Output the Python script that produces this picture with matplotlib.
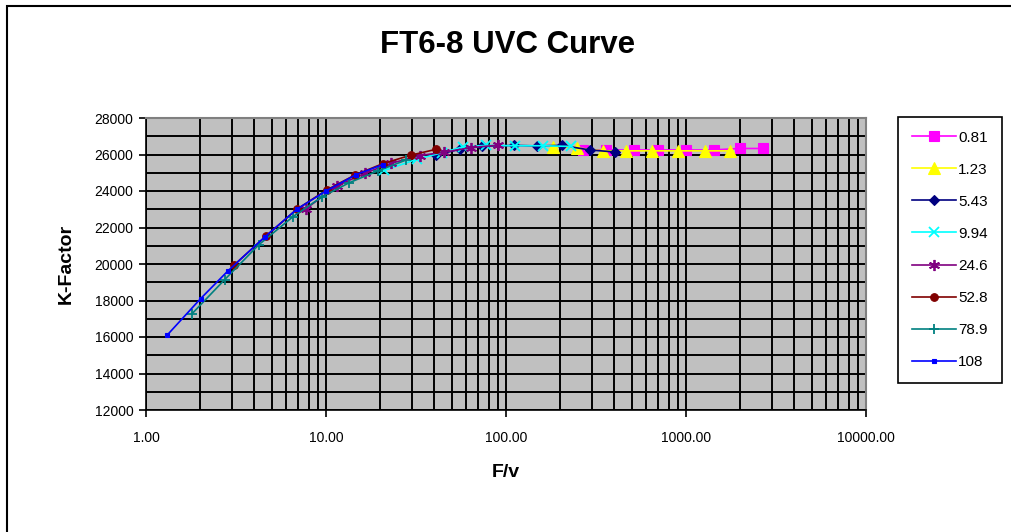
"""FT6-8 UVC curve: K-factor against F/v for several viscosities."""

import matplotlib

matplotlib.use("Agg", force=True)
import matplotlib.pyplot as plt
from matplotlib.patches import Rectangle
from matplotlib.ticker import FixedLocator, NullFormatter

plt.rcParams["font.family"] = ["Liberation Sans", "DejaVu Sans"]

# viscosity series (legend labels) and their points
labels = ["0.81", "1.23", "5.43", "9.94", "24.6", "52.8", "78.9", "108"]

fv_081 = [267, 360, 514, 699, 1002, 1422, 1983, 2685]
k_081 = [26250, 26250, 26250, 26250, 26250, 26250, 26330, 26330]

fv_123 = [182, 248, 348, 464, 648, 897, 1271, 1755]
k_123 = [26430, 26360, 26200, 26200, 26200, 26200, 26200, 26200]

fv_543 = [41, 55.7, 73.8, 110.5, 148, 205, 291, 401]
k_543 = [25980, 26290, 26440, 26500, 26470, 26500, 26250, 26140]

fv_994 = [21.1, 32.0, 44.2, 57.5, 77.6, 111.5, 160, 230]
k_994 = [25130, 25740, 26100, 26420, 26500, 26480, 26480, 26440]

fv_246 = [7.76, 11.5, 16.5, 22.9, 33.1, 45.5, 64.1, 90.0]
k_246 = [23040, 24280, 24980, 25510, 25940, 26130, 26380, 26510]

fv_528 = [3.07, 4.65, 6.91, 10.1, 14.5, 20.7, 29.5, 41.1]
k_528 = [19920, 21540, 23010, 24060, 24880, 25500, 25960, 26290]

fv_789 = [1.80, 2.74, 4.24, 6.57, 9.54, 13.5, 19.4, 27.9]
k_789 = [17270, 19150, 21060, 22600, 23690, 24460, 25100, 25700]

fv_108 = [1.31, 2.01, 2.85, 4.59, 6.88, 10.0, 14.7, 20.7]
k_108 = [16100, 18100, 19620, 21500, 23000, 24000, 24900, 25450]

x_ticks = [1, 10, 100, 1000, 10000]
x_ticklabels = ["1.00", "10.00", "100.00", "1000.00", "10000.00"]
y_ticks = list(range(12000, 28001, 2000))

series = [
    (fv_081, k_081, "#FF00FF", "s", 7.0),
    (fv_123, k_123, "#FFFF00", "^", 8.0),
    (fv_543, k_543, "#000080", "D", 5.5),
    (fv_994, k_994, "#00FFFF", "x", 6.5),
    (fv_246, k_246, "#800080", (6, 2, 0), 8.0),
    (fv_528, k_528, "#800000", "o", 5.5),
    (fv_789, k_789, "#008080", "+", 7.5),
    (fv_108, k_108, "#0000FF", "s", 3.0),
]

fig = plt.figure(figsize=(10.12, 5.32), dpi=100)
ax = fig.add_axes([146 / 1012, 1 - 410 / 532, 720 / 1012, 292 / 532])
ax.set_facecolor("#C0C0C0")

for (xs, ys, color, marker, ms), label in zip(series, labels):
    ax.plot(xs, ys, color=color, linewidth=1.2, marker=marker, markersize=ms,
            markeredgewidth=1.3 if marker in ("x", "+", (6, 2, 0)) else 0.8,
            markeredgecolor=color, markerfacecolor=color, label=label)

ax.set_xscale("log")
ax.set_xlim(1, 10000)
ax.set_ylim(12000, 28000)

ax.xaxis.set_major_locator(FixedLocator(x_ticks))
ax.set_xticklabels(x_ticklabels)
ax.xaxis.set_minor_locator(FixedLocator(
    [m * 10 ** d for d in range(4) for m in range(2, 10)]))
ax.xaxis.set_minor_formatter(NullFormatter())
ax.set_yticks(y_ticks)
ax.set_yticks(list(range(13000, 28000, 2000)), minor=True)

ax.grid(True, which="both", color="black", linewidth=1.4)
ax.set_axisbelow(True)
ax.tick_params(axis="both", which="major", labelsize=10, length=5,
               width=1.2, direction="out", pad=10)
ax.tick_params(axis="y", which="major", pad=4)
ax.tick_params(which="minor", length=0)

for side in ("top", "right"):
    ax.spines[side].set_color("#808080")
    ax.spines[side].set_linewidth(1.5)
for side in ("left", "bottom"):
    ax.spines[side].set_color("black")
    ax.spines[side].set_linewidth(1.2)

ax.set_xlabel("F/v", fontsize=14, fontweight="bold", labelpad=14)
ax.set_ylabel("K-Factor", fontsize=14, fontweight="bold", labelpad=14)
fig.text(508 / 1012, 1 - 45 / 532, "FT6-8 UVC Curve", ha="center",
         va="center", fontsize=22.5, fontweight="bold")

leg = fig.legend(loc="upper left", bbox_to_anchor=(898 / 1012, 1 - 117 / 532),
                 bbox_transform=fig.transFigure, borderaxespad=0,
                 fontsize=11, handlelength=2.9, handletextpad=0.15,
                 labelspacing=1.18, borderpad=0.9, fancybox=False,
                 framealpha=1, edgecolor="black")
leg.get_frame().set_linewidth(1.2)

# outer chart frame, cut off at the right and bottom edges
fig.add_artist(Rectangle((7 / 1012, -0.1), 1.2, 1.1 - 6 / 532, fill=False,
                         edgecolor="black", linewidth=1.5,
                         transform=fig.transFigure, clip_on=False))

fig.savefig("out.png", dpi=100)
plt.close(fig)
